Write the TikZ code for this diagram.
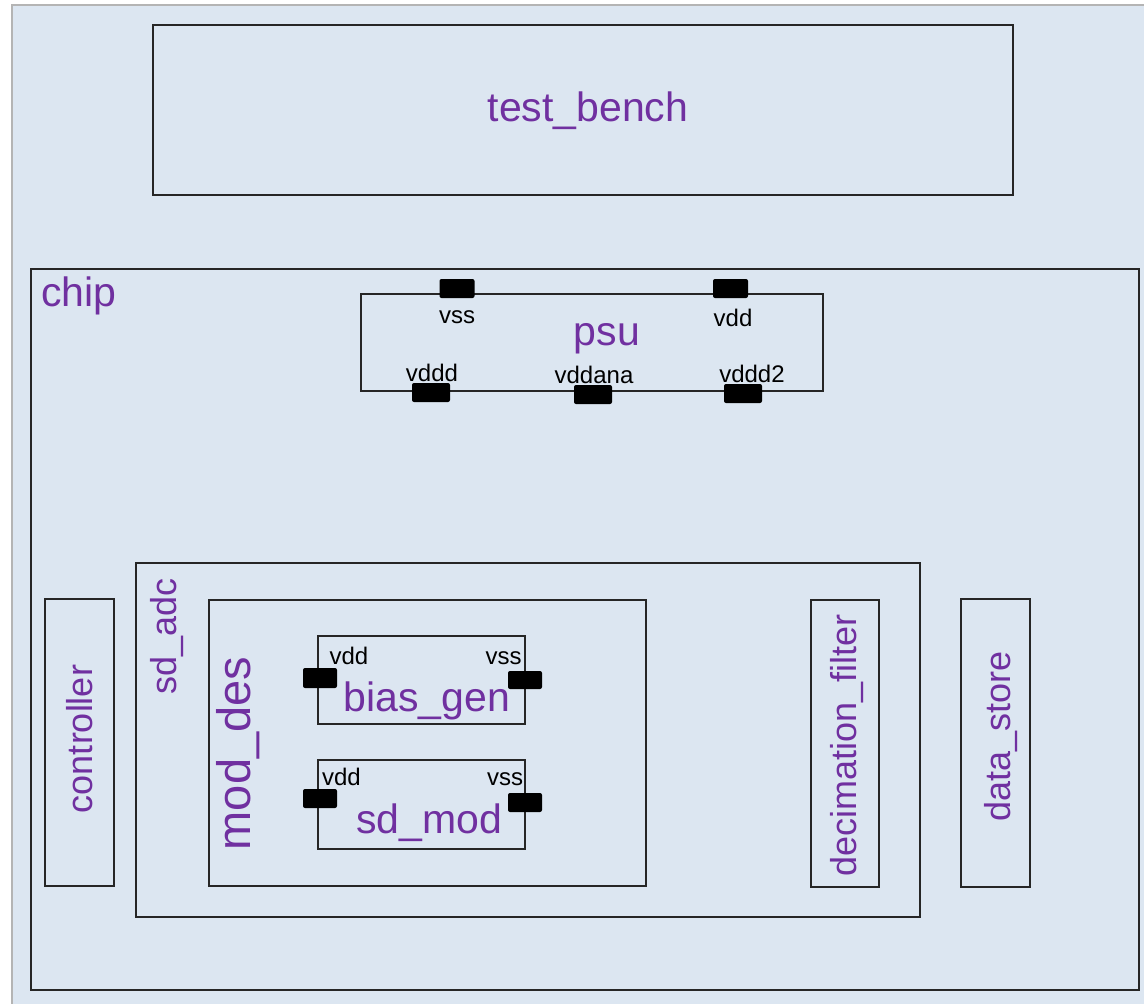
\documentclass[tikz,border=0pt]{standalone}
\usepackage{fontspec}
\setmainfont{Liberation Sans}
\definecolor{canvas}{HTML}{DCE6F1}
\definecolor{lbl}{HTML}{7030A0}
\definecolor{frame}{HTML}{B4B4B4}
\tikzset{
  blk/.style={draw=black!85, line width=1.3pt, inner sep=0pt, outer sep=0pt},
  port/.style={fill=black, rounded corners=2pt, inner sep=0pt, outer sep=0pt,
               minimum width=35pt, minimum height=19pt},
  wideport/.style={port, minimum width=38pt},
  big/.style={text=lbl, font=\fontsize{41}{41}\selectfont, inner sep=0pt},
  mid/.style={text=lbl, font=\fontsize{36}{36}\selectfont, inner sep=0pt},
  tall/.style={text=lbl, font=\fontsize{47}{47}\selectfont, inner sep=0pt},
  pin/.style={text=black, font=\fontsize{24}{24}\selectfont, inner sep=0pt},
}
\begin{document}
\begin{tikzpicture}[x=1pt, y=-1pt]
  % canvas and frame
  \useasboundingbox (0,0) rectangle (1144,1004);
  \fill[white] (0,0) rectangle (1144,1004);
  \fill[canvas] (12,5) rectangle (1144,1004);
  \draw[frame, line width=2pt] (12,1004) -- (12,5) -- (1144,5);

  % test bench
  \node[blk, minimum width=860pt, minimum height=170pt] (tb) at (583,110) {};
  \node[big, anchor=base] (tblbl) at (588,121) {test\_bench};

  % chip
  \node[blk, minimum width=1108pt, minimum height=721pt] (chip) at (585,629.5) {};
  \node[big, anchor=base west] (chiplbl) at (41,306) {chip};

  % power supply unit with its ports
  \node[blk, minimum width=462pt, minimum height=97pt] (psu) at (592,342.5) {};
  \node[big, anchor=base] (psulbl) at (607,345) {psu};
  \node[port] (pvss) at (457,288.5) {};
  \node[port] (pvdd) at (730.5,288.5) {};
  \node[wideport] (pvddd) at (431,392.5) {};
  \node[wideport] (pvddana) at (593,394.5) {};
  \node[wideport] (pvddd2) at (743,393.5) {};
  \node[pin, anchor=base] (lvss) at (457,323) {vss};
  \node[pin, anchor=base] (lvdd) at (733,326) {vdd};
  \node[pin, anchor=base] (lvddd) at (432,381) {vddd};
  \node[pin, anchor=base] (lvddana) at (594,383) {vddana};
  \node[pin, anchor=base] (lvddd2) at (752,382) {vddd2};

  % controller
  \node[blk, minimum width=69pt, minimum height=287pt] (ctrl) at (79.5,742.5) {};
  \node[mid, rotate=90, anchor=base] (ctrllbl) at (92,739) {controller};

  % sigma-delta adc
  \node[blk, minimum width=784pt, minimum height=354pt] (adc) at (528,740) {};
  \node[mid, rotate=90, anchor=base] (adclbl) at (176,636.5) {sd\_adc};

  % modulator design
  \node[blk, minimum width=437pt, minimum height=286pt] (mod) at (427.5,743) {};
  \node[tall, rotate=90, anchor=base] (modlbl) at (250,753.5) {mod\_des};

  % bias generator
  \node[blk, minimum width=207pt, minimum height=88pt] (bias) at (421.5,680) {};
  \node[port, minimum width=34pt, minimum height=20pt] (bvdd) at (320,678) {};
  \node[port, minimum width=34pt, minimum height=18pt] (bvss) at (525,680) {};
  \node[pin, anchor=base] (lbvdd) at (349,664) {vdd};
  \node[pin, anchor=base] (lbvss) at (503.5,664) {vss};
  \node[big, anchor=base] (biaslbl) at (427,711) {bias\_gen};

  % sigma-delta modulator
  \node[blk, minimum width=207pt, minimum height=89pt] (sdm) at (421.5,804.5) {};
  \node[port, minimum width=34pt] (svdd) at (320,798.5) {};
  \node[port, minimum width=34pt] (svss) at (525,802.5) {};
  \node[pin, anchor=base] (lsvdd) at (341.5,785) {vdd};
  \node[pin, anchor=base] (lsvss) at (505,785) {vss};
  \node[big, anchor=base] (sdmlbl) at (429,833) {sd\_mod};

  % decimation filter
  \node[blk, minimum width=68pt, minimum height=287pt] (dec) at (845,743.5) {};
  \node[mid, rotate=90, anchor=base] (declbl) at (856,745.5) {decimation\_filter};

  % data store
  \node[blk, minimum width=69pt, minimum height=288pt] (ds) at (995.5,743) {};
  \node[mid, rotate=90, anchor=base] (dslbl) at (1010,736.5) {data\_store};
\end{tikzpicture}
\end{document}
